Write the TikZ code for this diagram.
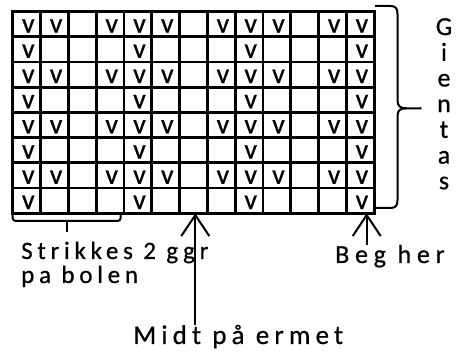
\documentclass[tikz,border=0pt]{standalone}
\usepackage{fontspec}
\setmainfont[FakeBold=0.6]{Carlito}
\newfontfamily\lbfontA[LetterSpace=19,FakeBold=0.6]{Carlito}
\newfontfamily\lbfontC[LetterSpace=22,FakeBold=0.6]{Carlito}
\newfontfamily\lbfontB[LetterSpace=19,FakeBold=0.6]{Carlito}
\newfontfamily\vfont[FakeBold=0.6]{Carlito}
\usetikzlibrary{arrows.meta}
\tikzset{
  gridline/.style={line width=2.8pt, line cap=rect},
  vmark/.style={anchor=base, inner sep=0pt, font=\vfont\fontsize{28}{28}\selectfont},
  bracket/.style={line width=2pt, rounded corners=3pt},
  bracestroke/.style={line width=2pt},
  pointer/.style={line width=2pt, -{Straight Barb[length=21pt,width=28pt,line width=2pt]}},
  lbl/.style={anchor=base west, inner sep=0pt, align=left}
}
\begin{document}
\begin{tikzpicture}[x=1pt,y=-1pt]
\useasboundingbox (0,0) rectangle (456,352);
% grid
\foreach \i in {0,...,13} \draw[gridline] ({12.7+\i*27.8},11.7) -- ({12.7+\i*27.8},213.3);
\foreach \j in {0,...,8} \draw[gridline] (12.7,{11.7+\j*25.2}) -- (374.1,{11.7+\j*25.2});
% v marks
\foreach \r in {1,3,5,7}
  \foreach \c in {1,2,4,5,6,8,9,10,12,13}
    \node[vmark] (v-\r-\c) at ({12.7+(\c-1)*27.8+15.6},{11.7+\r*25.2-4.2}) {v};
\foreach \r in {2,4,6,8}
  \foreach \c in {1,5,9,13}
    \node[vmark] (v-\r-\c) at ({12.7+(\c-1)*27.8+15.6},{11.7+\r*25.2-4.2}) {v};
% bottom bracket
\coordinate (bl) at (12.7,213.3);
\coordinate (br) at (120.7,213.3);
\coordinate (bmid) at (66.7,221);
\draw[bracket] (bl) -- (12.7,221) -- (120.7,221) -- (br);
\draw[bracestroke] (bmid) -- (66.7,232);
% right brace
\coordinate (rtop) at (375,6);
\coordinate (rtip) at (421.7,108.3);
\coordinate (rbot) at (375,208);
\draw[bracestroke] (rtop) -- (390,6) .. controls (395.5,6) and (397.5,8) .. (397.5,14) -- (397.5,100)
  .. controls (397.5,106) and (400,108.3) .. (406,108.3) -- (rtip);
\draw[bracestroke] (406,108.3) .. controls (400,108.3) and (397.5,110.6) .. (397.5,116) -- (397.5,200)
  .. controls (397.5,206) and (395.5,208) .. (390,208) -- (rbot);
% labels
\node[lbl, font={\lbfontA\fontsize{25}{24}\selectfont}] (strikk) at (21,283) {Strikkes 2 ggr\\pa bolen};
\node[lbl, font={\lbfontC\fontsize{26}{26}\selectfont}] (beg) at (335,263) {Beg her};
\node[lbl, font={\lbfontB\fontsize{27}{27}\selectfont}] (midt) at (133,344) {Midt på ermet};
\node[anchor=north, inner sep=0pt, align=center, font={\fontsize{26}{25.7}\selectfont}] (gientas) at (444,18) {G\\i\\e\\n\\t\\a\\s};
% arrows
\coordinate (midtip) at (195.3,213.3);
\coordinate (begtip) at (366.7,213.3);
\draw[pointer] (midt.north -| midtip) -- (midtip);
\draw[pointer] (beg.north -| begtip) -- (begtip);
\end{tikzpicture}
\end{document}
